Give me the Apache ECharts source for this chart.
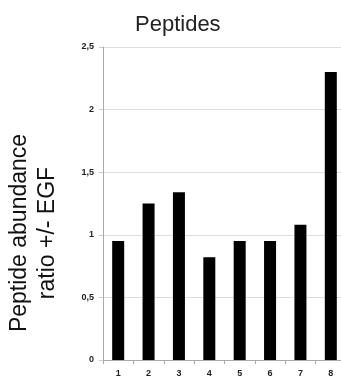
<!DOCTYPE html>
<html>
<head>
<meta charset="utf-8">
<script src="https://cdn.jsdelivr.net/npm/echarts@6/dist/echarts.min.js"></script>
<style>
  html, body { margin: 0; padding: 0; background: #fff; }
  #chart { width: 341px; height: 379px; }
</style>
</head>
<body>
<div id="chart"></div>
<script>
// peptide numbers on the x axis
const peptides = ['1', '2', '3', '4', '5', '6', '7', '8'];
// abundance ratio +/- EGF
const ratios = [0.95, 1.25, 1.34, 0.82, 0.95, 0.95, 1.08, 2.3];
const yTicks = [0, 0.5, 1, 1.5, 2, 2.5];

const chart = echarts.init(document.getElementById('chart'));

const option = {
    animation: false,
    textStyle: { fontFamily: 'Liberation Sans, Arial, sans-serif' },
    title: {
        text: 'Peptides',
        left: 130,
        top: 9,
        textStyle: { fontSize: 22, fontWeight: 'normal', color: '#222' }
    },
    // the plot runs a bit past the right edge in the original
    grid: { left: 103, top: 47, width: 243, height: 313, outerBoundsMode: 'none', containLabel: false },
    graphic: [{
        type: 'text',
        x: 34,
        y: 233,
        rotation: Math.PI / 2,
        style: {
            text: 'Peptide abundance\nratio +/- EGF',
            fontSize: 23,
            lineHeight: 28,
            fontFamily: 'Liberation Sans, Arial, sans-serif',
            fill: '#111',
            align: 'center',
            verticalAlign: 'middle'
        }
    }],
    xAxis: {
        type: 'category',
        data: peptides,
        axisLine: { lineStyle: { color: '#aaa', width: 1 } },
        axisTick: { show: true, length: 4, lineStyle: { color: '#aaa' } },
        axisLabel: { fontSize: 9, fontWeight: 'bold', color: '#222', margin: 9 }
    },
    yAxis: {
        type: 'value',
        min: yTicks[0],
        max: yTicks[yTicks.length - 1],
        interval: 0.5,
        axisLine: { show: true, lineStyle: { color: '#aaa', width: 1 } },
        axisTick: { show: true, length: 4, lineStyle: { color: '#ccc' } },
        splitLine: { lineStyle: { color: '#ddd', width: 1 } },
        axisLabel: {
            fontSize: 9,
            fontWeight: 'bold',
            color: '#222',
            margin: 9,
            formatter: v => String(v).replace('.', ',')
        }
    },
    series: [{
        type: 'bar',
        data: ratios,
        barWidth: 12,
        itemStyle: { color: '#000' }
    }]
};

chart.setOption(option);
</script>
</body>
</html>
